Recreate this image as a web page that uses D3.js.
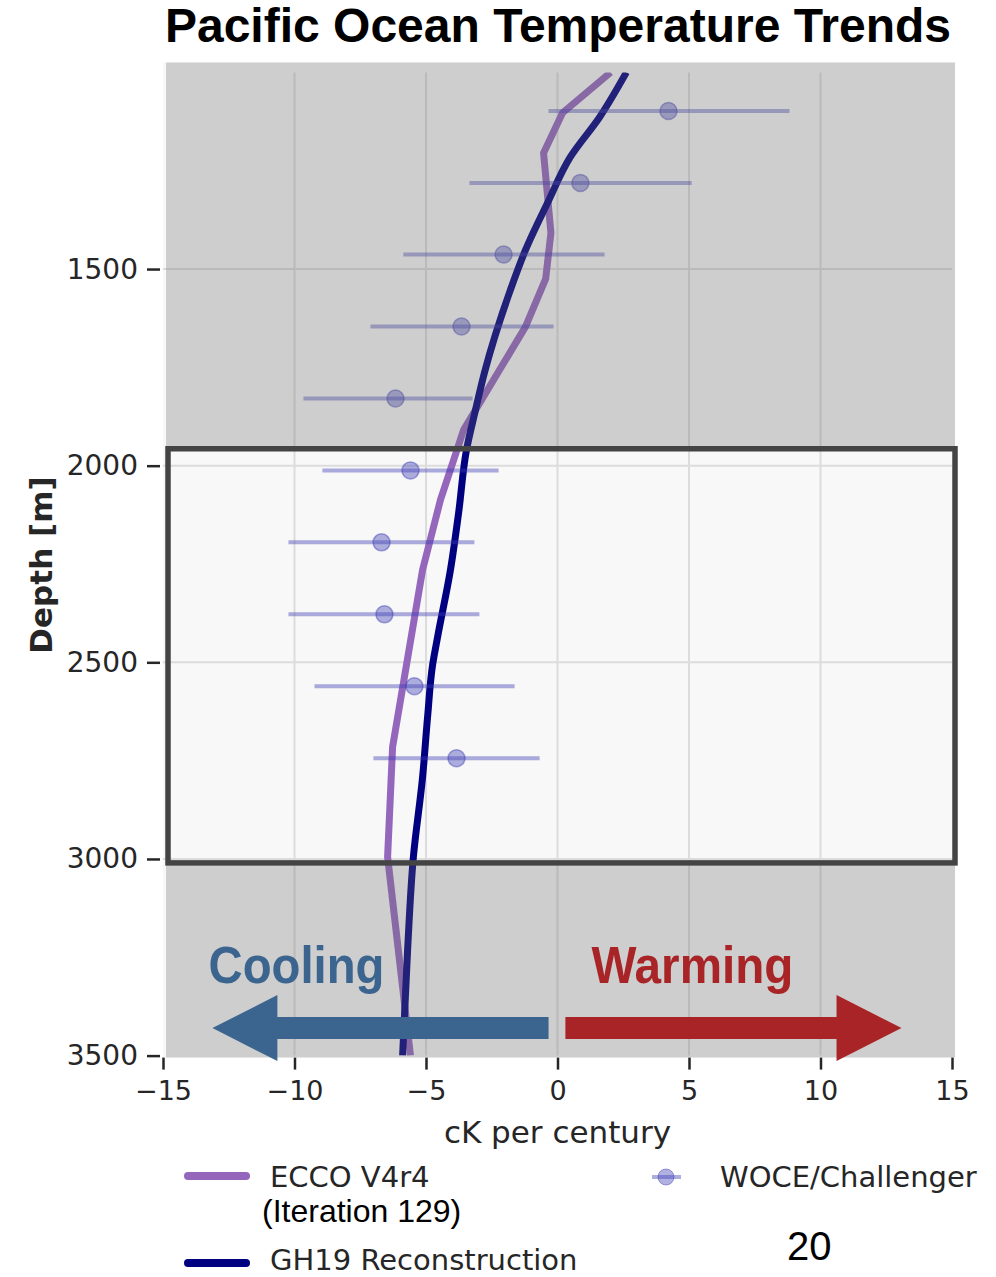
<html>
<head>
<meta charset="utf-8">
<script src="https://d3js.org/d3.v7.min.js"></script>
<style>
  body { margin: 0; background: #fff; }
  text { fill: #262626; }
</style>
</head>
<body>
<script>
// --- data ---
var xTicks = [-15, -10, -5, 0, 5, 10, 15];
var yTicks = [1500, 2000, 2500, 3000, 3500];
var gridX = [-10, -5, 0, 5, 10];

// ECCO V4r4 (Iteration 129)
var eccoDepth = [1000, 1103, 1205, 1408, 1525, 1647, 1909, 2087, 2265, 2715, 2995, 3500];
var eccoTrend = [2.02, 0.19, -0.53, -0.25, -0.45, -1.22, -3.57, -4.45, -5.13, -6.27, -6.46, -5.59];

// GH19 Reconstruction
var ghDepth = [1000, 1114, 1215, 1332, 1452, 1553, 1764, 1859, 1960, 2120, 2265, 2436, 2507, 2639, 2792, 2995, 3232, 3500];
var ghTrend = [2.62, 1.60, 0.49, -0.38, -1.22, -1.79, -2.78, -3.12, -3.46, -3.76, -4.07, -4.56, -4.75, -4.94, -5.13, -5.48, -5.70, -5.89];

// WOCE/Challenger with error bars
var obsDepth = [1098, 1281, 1463, 1646, 1829, 2012, 2195, 2378, 2561, 2744];
var obsTrend = [4.22, 0.87, -2.05, -3.65, -6.16, -5.59, -6.69, -6.58, -5.44, -3.84];
var obsLow   = [-0.34, -3.35, -5.86, -7.11, -9.66, -8.94, -10.23, -10.23, -9.24, -7.00];
var obsHigh  = [8.82, 5.10, 1.79, -0.15, -3.23, -2.24, -3.16, -2.97, -1.63, -0.68];

// highlighted depth band and arrows
var boxDepth = [1957, 3010];
var coolArrow = [-0.34, -10.65, -13.12];   // shaft end, head base, tip
var warmArrow = [0.30, 10.61, 13.08];
var arrowDepth = 3430;

var width = 996, height = 1277;
var svg = d3.select('body').append('svg').attr('width', width).attr('height', height);

var x = d3.scaleLinear().domain([-15, 15]).range([163, 952]);
var y = d3.scaleLinear().domain([1000, 3500]).range([72.4, 1055.6]);

var pL = x(-15), pR = x(15), pT = y(1000), pB = y(3500);

// plot background
svg.append('rect').attr('x', pL).attr('y', pT - 10).attr('width', pR - pL + 3).attr('height', pB - pT + 12)
    .attr('fill', '#f8f8f8');

// grid
svg.selectAll('.gx').data(gridX).enter().append('line')
    .attr('x1', function(d){return x(d)}).attr('x2', function(d){return x(d)})
    .attr('y1', pT).attr('y2', pB)
    .attr('stroke', '#dcdcdc').attr('stroke-width', 2);
svg.selectAll('.gy').data(yTicks.slice(0, 4)).enter().append('line')
    .attr('x1', pL).attr('x2', pR)
    .attr('y1', function(d){return y(d)}).attr('y2', function(d){return y(d)})
    .attr('stroke', '#dcdcdc').attr('stroke-width', 2);

svg.append('clipPath').attr('id', 'clip').append('rect')
    .attr('x', pL).attr('y', pT).attr('width', pR - pL).attr('height', pB - pT);

var plot = svg.append('g').attr('clip-path', 'url(#clip)');

var line = d3.line().x(function(d){return x(d[1])}).y(function(d){return y(d[0])});

plot.append('path').datum(d3.zip(eccoDepth, eccoTrend))
    .attr('d', line).attr('fill', 'none').attr('stroke', '#9467bd').attr('stroke-width', 7)
    .attr('stroke-linejoin', 'round');

plot.append('path').datum(d3.zip(ghDepth, ghTrend))
    .attr('d', line.curve(d3.curveMonotoneY)).attr('fill', 'none').attr('stroke', '#000080').attr('stroke-width', 7);

// error bars
var obs = d3.range(obsDepth.length);
plot.selectAll('.bar').data(obs).enter().append('line')
    .attr('x1', function(i){return x(obsLow[i])}).attr('x2', function(i){return x(obsHigh[i])})
    .attr('y1', function(i){return y(obsDepth[i])}).attr('y2', function(i){return y(obsDepth[i])})
    .attr('stroke', '#3c3cb4').attr('stroke-opacity', 0.42).attr('stroke-width', 4);
plot.selectAll('.dot').data(obs).enter().append('circle')
    .attr('cx', function(i){return x(obsTrend[i])}).attr('cy', function(i){return y(obsDepth[i])}).attr('r', 8.5)
    .attr('fill', '#3c3cb4').attr('fill-opacity', 0.4)
    .attr('stroke', '#3c3cb4').attr('stroke-opacity', 0.45).attr('stroke-width', 1.5);

// grey veil outside the highlighted band
var bx0 = pL + 5, bx1 = pR + 3, by0 = y(boxDepth[0]), by1 = y(boxDepth[1]);
var ox0 = pL + 3, ox1 = pR + 3, oy0 = pT - 10, oy1 = pB + 2;
svg.append('path')
    .attr('d', 'M' + ox0 + ',' + oy0 + 'H' + ox1 + 'V' + oy1 + 'H' + ox0 + 'Z' +
               'M' + bx0 + ',' + by0 + 'H' + bx1 + 'V' + by1 + 'H' + bx0 + 'Z')
    .attr('fill-rule', 'evenodd').attr('fill', '#6c6c6c').attr('fill-opacity', 0.3);

svg.append('rect').attr('x', bx0).attr('y', by0).attr('width', bx1 - bx0).attr('height', by1 - by0)
    .attr('fill', 'none').attr('stroke', '#444').attr('stroke-width', 5.5);

// arrows
var ay = y(arrowDepth);
function arrow(a, color){
    var p = [[x(a[0]), ay - 11], [x(a[1]), ay - 11], [x(a[1]), ay - 33], [x(a[2]), ay],
             [x(a[1]), ay + 33], [x(a[1]), ay + 11], [x(a[0]), ay + 11]];
    svg.append('path').attr('d', 'M' + p.join('L') + 'Z').attr('fill', color);
}
arrow(coolArrow, '#3b658f');
arrow(warmArrow, '#a82427');

svg.append('text').attr('x', x(-13.27)).attr('y', y(3315)).text('Cooling')
    .attr('textLength', 176).attr('lengthAdjust', 'spacingAndGlyphs')
    .style('font-family', '"Liberation Sans", Arial, sans-serif').style('font-weight', 'bold')
    .style('font-size', '52px').style('fill', '#3b658f');
svg.append('text').attr('x', x(1.29)).attr('y', y(3315)).text('Warming')
    .attr('textLength', 202).attr('lengthAdjust', 'spacingAndGlyphs')
    .style('font-family', '"Liberation Sans", Arial, sans-serif').style('font-weight', 'bold')
    .style('font-size', '52px').style('fill', '#a82427');

// axes
var yAxis = svg.append('g').attr('transform', 'translate(' + (pL - 3) + ',0)')
    .call(d3.axisLeft(y).tickValues(yTicks).tickSize(13).tickPadding(9).tickFormat(d3.format('d')));
var xAxis = svg.append('g').attr('transform', 'translate(0,' + (pB + 2) + ')')
    .call(d3.axisBottom(x).tickValues(xTicks).tickSize(12).tickPadding(11));
[xAxis, yAxis].forEach(function(a){
    a.select('.domain').remove();
    a.selectAll('line').attr('stroke', '#262626').attr('stroke-width', 2.5);
    a.selectAll('text').style('font-family', '"DejaVu Sans", sans-serif').style('font-size', '27px').style('fill', '#262626');
});
yAxis.selectAll('text').style('font-size', '28px');

svg.append('text').attr('x', x(0)).attr('y', 1143).attr('text-anchor', 'middle').text('cK per century')
    .style('font-family', '"DejaVu Sans", sans-serif').style('font-size', '31px');

svg.append('text').attr('transform', 'translate(52,565) rotate(-90)').attr('text-anchor', 'middle').text('Depth [m]')
    .style('font-family', '"DejaVu Sans", sans-serif').style('font-size', '31px').style('font-weight', 'bold');

svg.append('text').attr('x', 558).attr('y', 42).attr('text-anchor', 'middle').text('Pacific Ocean Temperature Trends')
    .style('font-family', '"Liberation Sans", Arial, sans-serif').style('font-size', '48px').style('font-weight', 'bold')
    .style('fill', '#000');

// legend
var lg = svg.append('g');
lg.append('line').attr('x1', 188).attr('x2', 246).attr('y1', 1176).attr('y2', 1176)
    .attr('stroke', '#9467bd').attr('stroke-width', 8).attr('stroke-linecap', 'round');
lg.append('line').attr('x1', 188).attr('x2', 246).attr('y1', 1263).attr('y2', 1263)
    .attr('stroke', '#000080').attr('stroke-width', 8).attr('stroke-linecap', 'round');
lg.append('line').attr('x1', 652).attr('x2', 681).attr('y1', 1177).attr('y2', 1177)
    .attr('stroke', '#3c3cb4').attr('stroke-opacity', 0.42).attr('stroke-width', 4);
lg.append('circle').attr('cx', 666).attr('cy', 1177).attr('r', 8)
    .attr('fill', '#3c3cb4').attr('fill-opacity', 0.4).attr('stroke', '#3c3cb4').attr('stroke-opacity', 0.45);

function legText(t, xx, yy){
    lg.append('text').attr('x', xx).attr('y', yy).text(t)
        .style('font-family', '"DejaVu Sans", sans-serif').style('font-size', '29px');
}
legText('ECCO V4r4', 270, 1187);
legText('WOCE/Challenger', 720, 1187);
legText('GH19 Reconstruction', 270, 1270);
lg.append('text').attr('x', 262).attr('y', 1222).text('(Iteration 129)')
    .style('font-family', '"Liberation Sans", Arial, sans-serif').style('font-size', '32px').style('fill', '#000');
lg.append('text').attr('x', 787).attr('y', 1260).text('20')
    .style('font-family', '"Liberation Sans", Arial, sans-serif').style('font-size', '40px').style('fill', '#000');
</script>
</body>
</html>
